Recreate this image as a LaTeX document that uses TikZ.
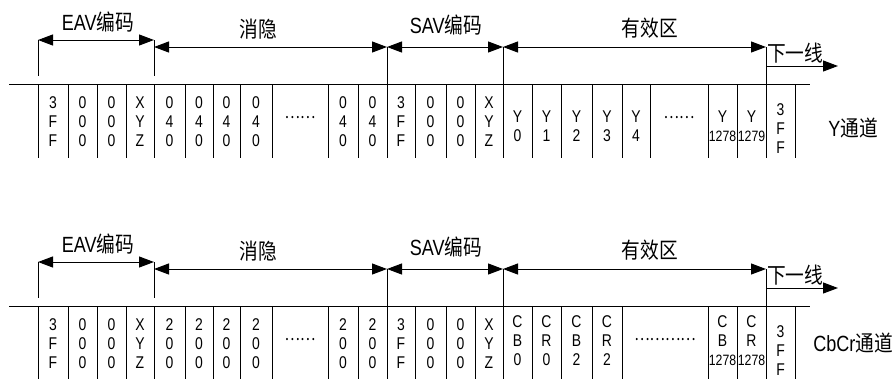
\documentclass[tikz,border=0pt]{standalone}
\usepackage{fontspec}
\setmainfont[FakeStretch=0.82]{Liberation Sans}
\newfontfamily\cjk[FakeStretch=0.85]{Noto Sans CJK SC}
\usetikzlibrary{arrows.meta}
\definecolor{ink}{HTML}{000000}

\begin{document}
\begin{tikzpicture}[x=1pt, y=-1pt,
    every node/.style={text=ink, inner sep=0pt},
    wire/.style={draw=ink, line width=1pt},
    span/.style={draw=ink, line width=1pt,
                 {Triangle[length=15pt,width=11pt]}-{Triangle[length=15pt,width=11pt]}},
    nextline/.style={draw=ink, line width=1pt, -{Triangle[length=15pt,width=11pt]}},
    lbl/.style={font=\fontsize{22}{24}\selectfont},
    cell/.style={font=\fontsize{17}{19}\selectfont, align=center},
  ]
  \useasboundingbox (0,0) rectangle (892,378);

  % the common frame of both rows: bus line, dividers, spans and labels
  \foreach \r/\oy/\blk/\chan/\cy in {y/0/{0\\4\\0}/{Y\cjk 通道}/128,
                                     c/222/{2\\0\\0}/{CbCr\cjk 通道}/121} {
    \begin{scope}[shift={(0,\oy)}]
      \draw[wire] (9,84) -- (810,84);
      \foreach \x in {38,68,97,126,154,185,213,240,272,328,358,387,415,446,475,503,
                      532,561,592,622,708,737,766,795}
        \draw[wire] (\x,84) -- (\x,158);

      % span end points
      \coordinate (\r-a) at (38,40);
      \coordinate (\r-b) at (154,40);
      \coordinate (\r-c) at (154,47);
      \coordinate (\r-d) at (387,47);
      \coordinate (\r-e) at (503,47);
      \coordinate (\r-f) at (766,47);
      \coordinate (\r-n) at (766,66);
      \coordinate (\r-m) at (838,66);

      \draw[wire] (\r-a) -- ++(0,36);
      \draw[wire] (\r-b) -- ++(0,36);
      \draw[wire] (\r-d) -- ++(0,37);
      \draw[wire] (\r-e) -- ++(0,37);
      \draw[wire] (\r-f) -- ++(0,37);
      \draw[span] (\r-a) -- (\r-b);
      \draw[span] (\r-c) -- (\r-d);
      \draw[span] (\r-d) -- (\r-e);
      \draw[span] (\r-e) -- (\r-f);
      \draw[nextline] (\r-n) -- (\r-m);

      \node[lbl] (\r-eav) at (98,22) {EAV\cjk 编码};
      \node[lbl] (\r-hb) at (258,29) {\cjk 消隐};
      \node[lbl] (\r-sav) at (446,25) {SAV\cjk 编码};
      \node[lbl] (\r-act) at (650,28) {\cjk 有效区};
      \node[lbl, anchor=west] (\r-next) at (767,53) {\cjk 下一线};
      \node[lbl] (\r-chan) at (853,\cy) {\chan};

      % EAV, blanking and SAV words
      \foreach \x/\t [count=\i] in {53/{3\\F\\F}, 82.5/{0\\0\\0}, 111.5/{0\\0\\0},
          140/{X\\Y\\Z}, 169.5/\blk, 199/\blk, 226.5/\blk, 256/\blk, 343/\blk,
          372.5/\blk, 401/{3\\F\\F}, 430.5/{0\\0\\0}, 460.5/{0\\0\\0}, 489/{X\\Y\\Z}}
        \node[cell] (\r-k\i) at (\x,122) {\t};
      \node[cell] (\r-end) at (780.5,129) {3\\F\\F};
    \end{scope}
  }

  % Y channel: active samples
  \draw[wire] (650,84) -- (650,158);
  \node[cell] (y-dots) at (300,118) {\cjk ……};
  \foreach \x/\t [count=\i] in {517.5/0, 546.5/1, 576.5/2, 607/3, 636/4}
    \node[cell] (y-s\i) at (\x,126) {Y\\\t};
  \node[cell] (y-dots2) at (679,118) {\cjk ……};
  \node[cell] (y-s6) at (722.5,126) {Y\\{\fontsize{15}{19}\selectfont 1278}};
  \node[cell] (y-s7) at (751.5,126) {Y\\{\fontsize{15}{19}\selectfont 1279}};

  % CbCr channel: active samples
  \node[cell] (c-dots) at (300,340) {\cjk ……};
  \foreach \x/\t [count=\i] in {517.5/{C\\B\\0}, 546.5/{C\\R\\0}, 576.5/{C\\B\\2}, 607/{C\\R\\2}}
    \node[cell] (c-s\i) at (\x,341) {\t};
  \node[cell] (c-dots2) at (665,340) {\cjk …………};
  \node[cell] (c-s5) at (722.5,341) {C\\B\\{\fontsize{15}{19}\selectfont 1278}};
  \node[cell] (c-s6) at (751.5,341) {C\\R\\{\fontsize{15}{19}\selectfont 1278}};
\end{tikzpicture}
\end{document}
